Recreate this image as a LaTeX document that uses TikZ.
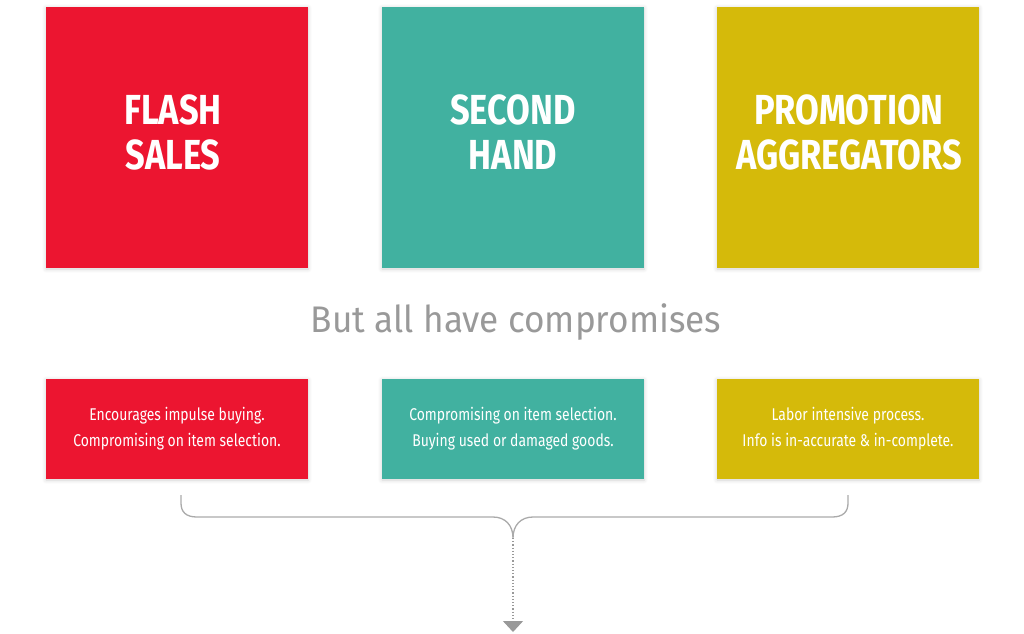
\documentclass[tikz,border=0pt]{standalone}
\usepackage{fontspec}
\setmainfont{Fira Sans}
\newfontfamily\titlefont[FakeStretch=0.82]{Fira Sans}
\newfontfamily\smallfont[FakeStretch=0.82]{Fira Sans}
\newfontfamily\midfont[FakeStretch=0.95]{Fira Sans}
\usetikzlibrary{arrows.meta,shadows.blur}
\definecolor{cred}{HTML}{EC1530}
\definecolor{cteal}{HTML}{41B1A0}
\definecolor{cyel}{HTML}{D5BA0A}
\definecolor{cgray}{HTML}{999999}
\definecolor{cline}{HTML}{AAAAAA}
\tikzset{
  bigbox/.style={minimum width=262pt, minimum height=261pt, inner sep=0pt, text=white,
    align=center,
    blur shadow={shadow blur steps=6, shadow xshift=0pt, shadow yshift=-1pt, shadow blur radius=4pt, shadow opacity=18}},
  bigtext/.style={text=white, align=center, font=\titlefont\bfseries\fontsize{42}{45}\selectfont},
  smallbox/.style={minimum width=262pt, minimum height=100pt, inner sep=0pt, text=white,
    align=center, font=\smallfont\fontsize{17}{26}\selectfont,
    blur shadow={shadow blur steps=6, shadow xshift=0pt, shadow yshift=-1pt, shadow blur radius=4pt, shadow opacity=18}},
  brace/.style={draw=cline, line width=1.3pt},
}
\begin{document}
\begin{tikzpicture}[x=1pt,y=-1pt]
\useasboundingbox (0,0) rectangle (1024,633);
\node[bigbox, fill=cred] (b1) at (177,137.5) {};
\node[bigbox, fill=cteal] (b2) at (513,137.5) {};
\node[bigbox, fill=cyel] (b3) at (848,137.5) {};
\node[bigtext] (t1) at (173,132) {FLASH\\SALES};
\node[bigtext] (t2) at (513,132) {SECOND\\HAND};
\node[bigtext] (t3) at (849,132) {PROMOTION\\AGGREGATORS};
\node[text=cgray, font=\midfont\fontsize{37}{40}\selectfont] (mid) at (516,322) {But all have compromises};
\node[smallbox, fill=cred] (s1) at (177,429) {Encourages impulse buying.\\Compromising on item selection.};
\node[smallbox, fill=cteal] (s2) at (513,429) {Compromising on item selection.\\Buying used or damaged goods.};
\node[smallbox, fill=cyel] (s3) at (848,429) {Labor intensive process.\\Info is in-accurate \& in-complete.};
\coordinate (bl) at (181,495);
\coordinate (br) at (848,495);
\coordinate (cusp) at (513,538);
\coordinate (tip) at (513,632);
\draw[brace] (bl) -- (181,503) .. controls (181,512) and (186,517) .. (197,517) -- (493,517)
  .. controls (505,517) and (513,525) .. (cusp)
  .. controls (513,525) and (521,517) .. (533,517) -- (832,517)
  .. controls (843,517) and (848,512) .. (848,503) -- (br);
\draw[draw=cgray, line width=1.2pt, dotted, -{Triangle[width=20pt,length=11pt,fill=cgray]}] (cusp) -- (tip);
\end{tikzpicture}
\end{document}
